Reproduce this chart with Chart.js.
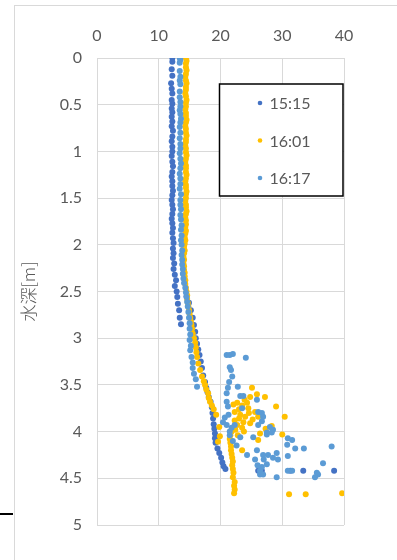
<!DOCTYPE html>
<html>
<head>
<meta charset="utf-8">
<script src="https://cdn.jsdelivr.net/npm/chart.js@4"></script>
<style>
  body { margin: 0; background: #fff; }
  #wrap { position: relative; width: 397px; height: 560px; overflow: hidden; }
  #frame { position: absolute; left: 14px; top: 5px; width: 420px; height: 600px; border: 1px solid #d9d9d9; }
  #mark { position: absolute; left: 0; top: 513px; width: 13px; height: 2px; background: #000; }
  canvas { position: absolute; left: 0; top: 0; }
</style>
</head>
<body>
<div id="wrap">
  <div id="frame"></div>
  <div id="mark"></div>
  <canvas id="depthChart" width="397" height="560"></canvas>
</div>
<script>
const seriesLabels = ["15:15", "16:01", "16:17"];
const seriesColors = ["#4472C4", "#FFC000", "#5B9BD5"];
const xTicks = [0, 10, 20, 30, 40];
const yTicks = [0, 0.5, 1, 1.5, 2, 2.5, 3, 3.5, 4, 4.5, 5];

// 15:15
const depth1515 = [
  0.00, 0.04, 0.12, 0.19, 0.27, 0.33, 0.38, 0.45, 0.49, 0.54,
  0.58, 0.63, 0.68, 0.73, 0.78, 0.84, 0.89, 0.95, 1.00, 1.05,
  1.11, 1.16, 1.22, 1.27, 1.32, 1.37, 1.42, 1.47, 1.52, 1.57,
  1.62, 1.67, 1.72, 1.77, 1.82, 1.87, 1.93, 1.98, 2.04, 2.09,
  2.14, 2.20, 2.26, 2.32, 2.38, 2.44, 2.50, 2.56, 2.63, 2.70,
  2.78, 2.85,
  2.55, 2.62, 2.70, 2.78, 2.86, 2.93, 3.00, 3.06, 3.12, 3.18,
  3.25, 3.32, 3.40, 3.47, 3.53, 3.58, 3.63, 3.68, 3.74, 3.80,
  3.86, 3.92, 3.97, 4.02, 4.07, 4.12, 4.18, 4.23, 4.28, 4.33,
  4.37, 4.40,
  4.42, 4.42, 4.42, 4.42, 4.42
];
const temp1515 = [
  12.2, 12.2, 12.1, 12.2, 12.0, 12.1, 12.2, 12.1, 12.2, 12.1,
  12.2, 12.1, 12.2, 12.1, 12.3, 12.2, 12.1, 12.2, 12.2, 12.1,
  12.2, 12.3, 12.2, 12.1, 12.2, 12.2, 12.3, 12.2, 12.1, 12.2,
  12.3, 12.2, 12.1, 12.2, 12.3, 12.2, 12.3, 12.4, 12.3, 12.4,
  12.3, 12.5, 12.4, 12.6, 12.8, 12.6, 12.9, 13.0, 13.1, 13.3,
  13.4, 13.6,
  14.5, 14.9, 15.2, 15.5, 15.7, 15.9, 16.0, 16.2, 16.4, 16.6,
  16.8, 17.0, 17.2, 17.5, 17.7, 17.9, 18.1, 18.4, 18.6, 18.7,
  18.8, 18.9, 19.0, 19.1, 19.1, 19.2, 19.5, 19.8, 20.1, 20.3,
  20.5, 20.8,
  26.1, 26.7, 31.3, 33.4, 38.4
];

// 16:01
const depth1601 = [
  0.00, 0.03, 0.06, 0.10, 0.13, 0.17, 0.20, 0.24, 0.27, 0.31,
  0.34, 0.38, 0.41, 0.45, 0.48, 0.52, 0.55, 0.59, 0.62, 0.66,
  0.69, 0.73, 0.76, 0.80, 0.83, 0.87, 0.90, 0.94, 0.97, 1.01,
  1.04, 1.08, 1.11, 1.15, 1.18, 1.22, 1.25, 1.29, 1.32, 1.36,
  1.39, 1.43, 1.46, 1.50, 1.53, 1.57, 1.60, 1.64, 1.67, 1.71,
  1.74, 1.78, 1.81, 1.85, 1.88, 1.92, 1.95, 1.99, 2.02, 2.06,
  2.09, 2.13, 2.16, 2.20, 2.23, 2.27, 2.30,
  2.34, 2.38, 2.42, 2.46, 2.50, 2.54, 2.58, 2.62, 2.66, 2.70,
  2.74, 2.78, 2.82, 2.86, 2.90, 2.95, 3.00, 3.05, 3.10, 3.15,
  3.20, 3.27, 3.34, 3.41, 3.46, 3.50, 3.55, 3.59, 3.64, 3.68,
  3.72,
  3.76, 3.82, 3.95, 4.05, 4.11,
  4.00, 4.04, 4.08, 4.12, 4.16, 4.20, 4.24, 4.28, 4.32, 4.36,
  4.40, 4.44, 4.49, 4.54, 4.58, 4.62, 4.66,
  3.53, 3.60, 3.63, 3.63, 3.73, 3.69, 3.69, 3.72, 3.75, 3.79,
  3.79, 3.82, 3.84, 3.84, 3.84, 3.88, 3.90, 3.93, 3.96, 3.94,
  4.02, 4.03, 4.04, 4.09, 4.20, 3.76, 3.80, 3.86, 3.91, 3.71,
  3.98, 3.66, 4.00, 3.87, 3.97,
  4.67, 4.67, 4.66
];
const temp1601 = [
  14.4, 14.5, 14.4, 14.4, 14.5, 14.4, 14.3, 14.4, 14.5, 14.4,
  14.4, 14.3, 14.4, 14.5, 14.4, 14.4, 14.3, 14.4, 14.4, 14.5,
  14.4, 14.3, 14.4, 14.4, 14.5, 14.4, 14.4, 14.3, 14.4, 14.4,
  14.5, 14.4, 14.3, 14.4, 14.4, 14.4, 14.5, 14.4, 14.3, 14.4,
  14.4, 14.5, 14.4, 14.4, 14.3, 14.4, 14.4, 14.5, 14.4, 14.3,
  14.4, 14.4, 14.3, 14.4, 14.3, 14.2, 14.3, 14.2, 14.1, 14.2,
  14.1, 14.0, 14.1, 14.0, 14.1, 14.1, 14.2,
  14.2, 14.3, 14.3, 14.4, 14.5, 14.6, 14.6, 14.7, 14.8, 14.9,
  15.0, 15.1, 15.2, 15.3, 15.4, 15.5, 15.7, 15.9, 16.0, 16.1,
  16.2, 16.4, 16.7, 17.0, 17.3, 17.5, 17.7, 18.0, 18.1, 18.3,
  18.6,
  18.9, 19.3, 19.8, 19.9, 19.6,
  21.8, 21.6, 21.5, 21.6, 21.7, 21.7, 21.8, 21.9, 22.0, 21.9,
  22.0, 22.1, 22.0, 22.3, 22.2, 22.3, 22.2,
  25.1, 25.9, 27.2, 24.8, 29.0, 24.3, 22.7, 23.5, 24.5, 25.6,
  22.3, 23.2, 24.0, 26.1, 30.4, 22.3, 23.7, 22.7, 23.5, 28.3,
  26.4, 30.0, 22.8, 26.1, 23.5, 23.0, 24.6, 23.0, 24.8, 22.1,
  22.4, 23.9, 23.8, 25.2, 27.3,
  31.1, 33.8, 39.7
];

// 16:17
const depth1617 = [
  0.00, 0.02, 0.05, 0.14, 0.20, 0.24, 0.28, 0.36, 0.42, 0.47,
  0.52, 0.56, 0.60, 0.65, 0.69, 0.74, 0.80, 0.86, 0.92, 0.97,
  1.02, 1.08, 1.13, 1.18, 1.24, 1.29, 1.35, 1.40, 1.46, 1.52,
  1.57, 1.62, 1.68, 1.73, 1.79, 1.84, 1.90, 1.95, 2.00, 2.06,
  2.11, 2.16, 2.21, 2.26,
  2.31, 2.36, 2.41, 2.46, 2.51, 2.56, 2.61, 2.66, 2.72, 2.78,
  2.84, 2.90, 2.96, 3.02, 3.08, 3.13, 3.20, 3.26, 3.32, 3.38,
  3.44, 3.52,
  3.18, 3.18, 3.17, 3.21, 3.31, 3.34, 3.41, 3.47, 3.53, 3.52,
  3.59, 3.62, 3.62, 3.66, 3.68, 3.73, 3.75, 3.80, 3.85, 3.89,
  3.93, 3.95, 3.98, 4.03, 4.04, 4.06, 4.07, 4.09, 4.14, 4.18,
  4.18, 4.16, 4.20, 4.25, 4.25, 4.25, 4.23, 4.26, 4.30, 4.28,
  4.30, 4.35, 4.38, 4.34, 4.42, 4.42, 4.42, 4.44, 4.46, 4.46,
  4.46, 4.49, 4.49,
  3.82, 3.93, 4.00, 3.79, 3.84, 3.93, 4.01, 4.01, 4.06, 3.90,
  4.10, 4.15, 3.96, 4.30, 4.36
];
const temp1617 = [
  13.4, 13.5, 13.4, 13.4, 13.5, 13.4, 13.5, 13.4, 13.4, 13.5,
  13.5, 13.4, 13.5, 13.6, 13.5, 13.4, 13.5, 13.4, 13.5, 13.5,
  13.4, 13.5, 13.6, 13.5, 13.4, 13.5, 13.5, 13.4, 13.6, 13.5,
  13.5, 13.6, 13.5, 13.6, 13.7, 13.6, 13.7, 13.6, 13.7, 13.8,
  13.7, 13.8, 13.8, 13.9,
  13.9, 14.0, 14.1, 14.3, 14.4, 14.5, 14.6, 14.7, 14.8, 14.9,
  15.0, 15.0, 15.1, 15.0, 15.2, 15.1, 15.3, 15.5, 15.5, 15.7,
  16.0, 16.2,
  21.0, 21.5, 22.0, 24.1, 21.5, 21.7, 21.9, 21.4, 21.2, 22.8,
  21.0, 23.2, 23.7, 25.9, 21.0, 21.2, 23.5, 26.7, 20.7, 26.7,
  21.0, 28.0, 28.5, 27.5, 21.5, 25.3, 30.9, 31.6, 30.8, 32.1,
  33.5, 38.0, 25.9, 24.3, 26.9, 27.7, 29.1, 30.9, 25.6, 28.5,
  29.3, 27.5, 26.7, 36.6, 26.4, 30.9, 31.6, 35.6, 35.8, 26.4,
  26.9, 29.1, 35.3,
  21.3, 22.3, 21.5, 26.1, 26.9, 26.1, 27.5, 28.3, 23.2, 20.4,
  22.0, 22.6, 21.8, 27.0, 26.0
];

function toPoints(depths, temps) {
  return depths.map((d, i) => ({ x: temps[i], y: d }));
}

const boxLegend = {
  id: "boxLegend",
  afterDraw(chart) {
    const { ctx, chartArea } = chart;
    const x = chartArea.left + 122.5, y = chartArea.top + 26;
    const w = 123.5, h = 112;
    ctx.save();
    ctx.fillStyle = "#fff";
    ctx.fillRect(x, y, w, h);
    ctx.strokeStyle = "#000";
    ctx.lineWidth = 1.5;
    ctx.strokeRect(x, y, w, h);
    ctx.font = "16px Lato";
    ctx.textBaseline = "middle";
    chart.data.datasets.forEach((ds, i) => {
      const cy = y + 19 + i * 37.5;
      ctx.beginPath();
      ctx.arc(x + 40.5, cy, 2.3, 0, Math.PI * 2);
      ctx.fillStyle = ds.backgroundColor;
      ctx.fill();
      ctx.fillStyle = "#595959";
      ctx.fillText(ds.label, x + 50, cy + 1);
    });
    ctx.restore();
  }
};

const ctx = document.getElementById("depthChart").getContext("2d");
const depthChart = new Chart(ctx, {
  type: "scatter",
  data: {
    datasets: [
      { label: seriesLabels[0], data: toPoints(depth1515, temp1515), backgroundColor: seriesColors[0], borderColor: seriesColors[0], order: 3 },
      { label: seriesLabels[1], data: toPoints(depth1601, temp1601), backgroundColor: seriesColors[1], borderColor: seriesColors[1], order: 2 },
      { label: seriesLabels[2], data: toPoints(depth1617, temp1617), backgroundColor: seriesColors[2], borderColor: seriesColors[2], order: 1 }
    ]
  },
  options: {
    responsive: false,
    animation: false,
    devicePixelRatio: 1,
    layout: { padding: { left: 0, top: 0, right: 53, bottom: 35 } },
    elements: { point: { radius: 3, borderWidth: 0, hoverRadius: 3 } },
    scales: {
      x: {
        type: "linear",
        position: "top",
        min: 0,
        max: 40,
        afterBuildTicks: (s) => { s.ticks = xTicks.map(v => ({ value: v })); },
        afterFit: (s) => { s.height = 58; },
        grid: { color: "#d9d9d9", lineWidth: 1, drawTicks: false },
        border: { color: "#d9d9d9" },
        ticks: { color: "#595959", font: { family: "Lato", size: 16 }, padding: 13, callback: (v) => String(v) }
      },
      y: {
        type: "linear",
        reverse: true,
        min: 0,
        max: 5,
        afterBuildTicks: (s) => { s.ticks = yTicks.map(v => ({ value: v })); },
        afterFit: (s) => { s.width = 97; },
        grid: { color: "#d9d9d9", lineWidth: 1, drawTicks: false },
        border: { color: "#d9d9d9" },
        ticks: { color: "#595959", font: { family: "Lato", size: 16 }, padding: 15, callback: (v) => String(v) },
        title: {
          display: true,
          text: "水深[m]",
          color: "#595959",
          font: { family: "Noto Sans CJK JP", size: 17, weight: "300" },
          padding: { top: 18, bottom: 0 }
        }
      }
    },
    plugins: {
      legend: { display: false },
      tooltip: { enabled: false }
    }
  },
  plugins: [boxLegend]
});
</script>
</body>
</html>
